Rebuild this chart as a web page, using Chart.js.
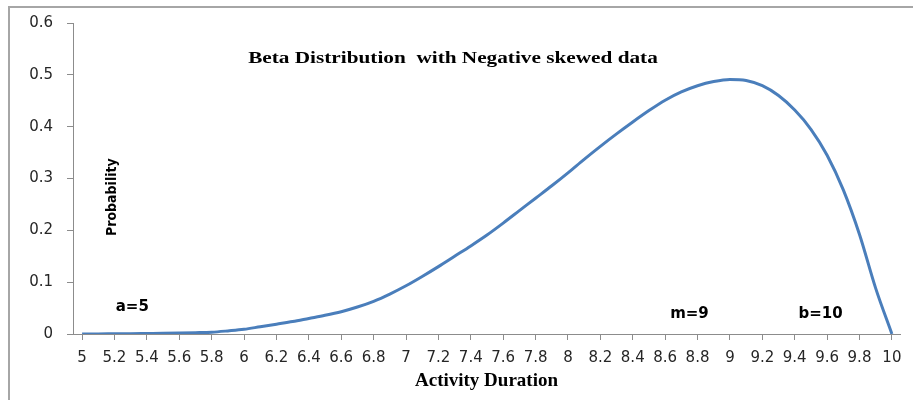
<!DOCTYPE html>
<html>
<head>
<meta charset="utf-8">
<script src="https://cdn.jsdelivr.net/npm/chart.js@4"></script>
<style>
  html, body { margin: 0; padding: 0; background: #ffffff; }
  #wrap { position: relative; width: 913px; height: 400px; overflow: hidden; }
  #frame { position: absolute; left: 8px; top: 6px; width: 1000px; height: 500px;
           border-left: 2px solid #a6a6a6; border-top: 2px solid #a6a6a6; }
  #c { position: absolute; left: 0; top: 0; }
</style>
</head>
<body>
<div id="wrap">
  <div id="frame"></div>
  <canvas id="c" width="913" height="400"></canvas>
</div>
<script>
// ---- data ----
const activityDuration = [
  5.0, 5.1, 5.2, 5.3, 5.4, 5.5, 5.6, 5.7, 5.8, 5.9,
  6.0, 6.1, 6.2, 6.3, 6.4, 6.5, 6.6, 6.7, 6.8, 6.9,
  7.0, 7.1, 7.2, 7.3, 7.4, 7.5, 7.6, 7.7, 7.8, 7.9,
  8.0, 8.1, 8.2, 8.3, 8.4, 8.5, 8.6, 8.7, 8.8, 8.9,
  9.0, 9.1, 9.2, 9.3, 9.4, 9.5, 9.6, 9.7, 9.8, 9.9,
  10.0
];
const probability = [
  0, 0, 0.0005, 0.0007, 0.001, 0.0013, 0.0018, 0.0025, 0.0035, 0.006,
  0.009, 0.014, 0.019, 0.024, 0.030, 0.036, 0.043, 0.052, 0.063, 0.077,
  0.093, 0.111, 0.130, 0.150, 0.170, 0.191, 0.214, 0.238, 0.262, 0.286,
  0.311, 0.337, 0.362, 0.386, 0.409, 0.431, 0.451, 0.467, 0.479, 0.487,
  0.491, 0.489, 0.479, 0.460, 0.432, 0.395, 0.345, 0.278, 0.192, 0.088,
  0
];
const xTickValues = [5, 5.2, 5.4, 5.6, 5.8, 6, 6.2, 6.4, 6.6, 6.8, 7, 7.2, 7.4, 7.6, 7.8,
                     8, 8.2, 8.4, 8.6, 8.8, 9, 9.2, 9.4, 9.6, 9.8, 10];
const xTickLabels = ['5', '5.2', '5.4', '5.6', '5.8', '6', '6.2', '6.4', '6.6', '6.8', '7', '7.2', '7.4', '7.6', '7.8',
                     '8', '8.2', '8.4', '8.6', '8.8', '9', '9.2', '9.4', '9.6', '9.8', '10'];
const yTickValues = [0, 0.1, 0.2, 0.3, 0.4, 0.5, 0.6];
const yTickLabels = ['0', '0.1', '0.2', '0.3', '0.4', '0.5', '0.6'];

const chartTitle = 'Beta Distribution  with Negative skewed data';
const xAxisTitle = 'Activity Duration';
const yAxisTitle = 'Probability';
const markerTexts = ['a=5', 'm=9', 'b=10'];

// ---- text placement (in axis units) ----
const textPlacement = {
  title: { x: 7.29, y: 0.532 },
  yTitle: { x: 5.19, y: 0.264 },
  markers: [ { x: 5.31, y: 0.051 }, { x: 8.75, y: 0.038 }, { x: 9.56, y: 0.038 } ]
};

const AXIS_COLOR = '#8c8c8c';
const TICK_TEXT = '#262626';

const annotationPlugin = {
  id: 'annotationText',
  afterDraw(chart) {
    const ctx = chart.ctx, xs = chart.scales.x, ys = chart.scales.y;
    ctx.save();
    ctx.textAlign = 'center';
    ctx.textBaseline = 'middle';
    ctx.fillStyle = '#000000';
    // title (slightly widened like the reference)
    ctx.save();
    ctx.translate(xs.getPixelForValue(textPlacement.title.x), ys.getPixelForValue(textPlacement.title.y));
    ctx.scale(1.25, 1);
    ctx.font = 'bold 17px "Liberation Serif"';
    ctx.fillText(chartTitle, 0, 0);
    ctx.restore();
    // rotated "Probability"
    ctx.save();
    ctx.translate(xs.getPixelForValue(textPlacement.yTitle.x), ys.getPixelForValue(textPlacement.yTitle.y));
    ctx.rotate(-Math.PI / 2);
    ctx.font = 'bold 14px "DejaVu Sans Condensed", "DejaVu Sans"';
    ctx.fillText(yAxisTitle, 0, 0);
    ctx.restore();
    // markers
    ctx.font = 'bold 15px "DejaVu Sans"';
    markerTexts.forEach((t, i) => {
      const p = textPlacement.markers[i];
      ctx.fillText(t, xs.getPixelForValue(p.x), ys.getPixelForValue(p.y));
    });
    ctx.restore();
  }
};

new Chart(document.getElementById('c'), {
  type: 'line',
  data: {
    datasets: [{
      label: yAxisTitle,
      data: activityDuration.map((x, i) => ({ x: x, y: probability[i] })),
      borderColor: '#4a7ebb',
      borderWidth: 3,
      pointRadius: 0,
      fill: false,
      cubicInterpolationMode: 'monotone'
    }]
  },
  options: {
    responsive: false,
    animation: false,
    devicePixelRatio: 1,
    layout: { padding: { left: 0, top: 18, right: 13, bottom: 0 } },
    plugins: { legend: { display: false }, tooltip: { enabled: false } },
    scales: {
      x: {
        type: 'linear',
        min: 4.944,
        max: 10.05,
        afterBuildTicks: s => { s.ticks = xTickValues.map(v => ({ value: v })); },
        afterFit: s => { s.height = 66; },
        ticks: {
          autoSkip: false,
          maxRotation: 0,
          minRotation: 0,
          padding: 9,
          color: TICK_TEXT,
          font: { family: '"DejaVu Sans"', size: 15 },
          callback: (v, i) => xTickLabels[i]
        },
        grid: { drawOnChartArea: false, drawTicks: true, tickLength: 6, color: AXIS_COLOR },
        border: { color: AXIS_COLOR, width: 1 },
        title: {
          display: true,
          text: xAxisTitle,
          color: '#000000',
          font: { family: '"Liberation Serif"', size: 19, weight: 'bold' },
          padding: { top: 2, bottom: 8 }
        }
      },
      y: {
        type: 'linear',
        min: 0,
        max: 0.6,
        afterBuildTicks: s => { s.ticks = yTickValues.map(v => ({ value: v })); },
        afterFit: s => { s.width = 73; },
        ticks: {
          padding: 14,
          color: TICK_TEXT,
          font: { family: '"DejaVu Sans"', size: 15 },
          callback: (v, i) => yTickLabels[i]
        },
        grid: { drawOnChartArea: false, drawTicks: true, tickLength: 6, color: AXIS_COLOR },
        border: { color: AXIS_COLOR, width: 1 }
      }
    }
  },
  plugins: [annotationPlugin]
});
</script>
</body>
</html>
